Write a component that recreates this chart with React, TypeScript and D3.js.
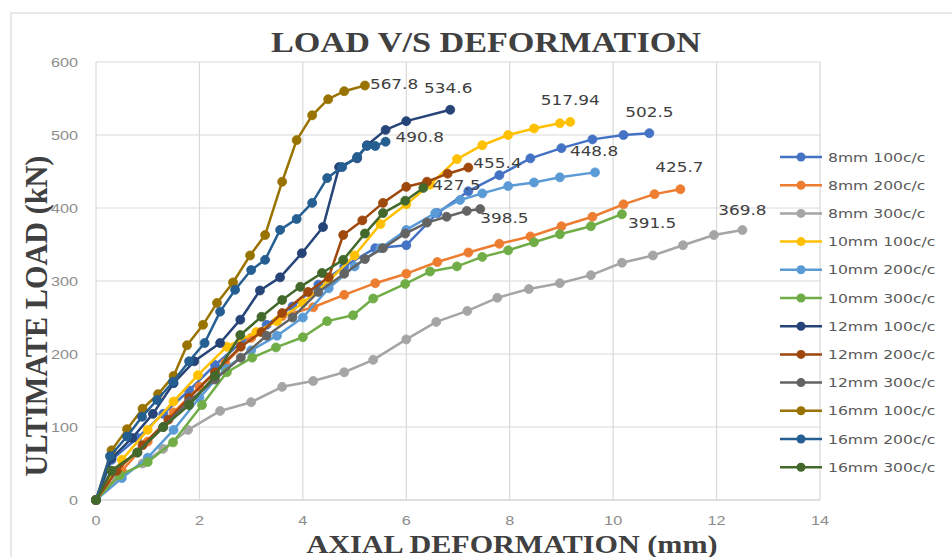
import React from "react";
import * as d3 from "d3";

const seriesNames = [
  "8mm 100c/c", "8mm 200c/c", "8mm 300c/c",
  "10mm 100c/c", "10mm 200c/c", "10mm 300c/c",
  "12mm 100c/c", "12mm 200c/c", "12mm 300c/c",
  "16mm 100c/c", "16mm 200c/c", "16mm 300c/c",
];

const s8_100_x = [0, 0.3, 0.8, 1.3, 1.8, 2.3, 2.8, 3.3, 3.8, 4.3, 4.8, 5.4, 6.0, 6.6, 7.2, 7.8, 8.4, 9.0, 9.6, 10.2, 10.7];
const s8_100_y = [0, 55, 85, 118, 150, 185, 215, 240, 265, 295, 320, 345, 349, 393, 423, 445, 468, 482, 494, 500, 502.5];

const s8_200_x = [0, 0.5, 1.0, 1.5, 2.0, 2.5, 3.0, 3.6, 4.2, 4.8, 5.4, 6.0, 6.6, 7.2, 7.8, 8.4, 9.0, 9.6, 10.2, 10.8, 11.3];
const s8_200_y = [0, 40, 80, 120, 155, 188, 222, 252, 264, 281, 297, 310, 326, 339, 351, 361, 375, 388, 405, 419, 425.7];

const s8_300_x = [0, 0.4, 0.9, 1.3, 1.78, 2.4, 3.0, 3.6, 4.2, 4.8, 5.36, 6.0, 6.58, 7.18, 7.76, 8.37, 8.97, 9.57, 10.17, 10.77, 11.35, 11.95, 12.5];
const s8_300_y = [0, 30, 50, 70, 96, 122, 134, 155, 163, 175, 192, 220, 244, 259, 277, 289, 297, 308, 325, 335, 349, 363, 369.8];

const s10_100_x = [0, 0.5, 1.0, 1.5, 1.97, 2.53, 3.1, 3.5, 4.0, 4.5, 5.0, 5.5, 6.0, 6.46, 6.98, 7.47, 7.97, 8.47, 8.97, 9.17];
const s10_100_y = [0, 55, 96, 135, 171, 210, 230, 245, 270, 300, 335, 378, 405, 432, 467, 486, 500, 509, 516, 517.94];

const s10_200_x = [0, 0.5, 1.0, 1.5, 2.0, 2.5, 3.0, 3.5, 4.0, 4.5, 5.0, 5.5, 6.0, 6.56, 7.04, 7.47, 7.97, 8.47, 8.97, 9.65];
const s10_200_y = [0, 30, 58, 96, 140, 180, 205, 225, 250, 290, 320, 345, 370, 393, 411, 420, 430, 435, 442, 448.8];

const s10_300_x = [0, 0.46, 1.0, 1.49, 2.05, 2.53, 3.02, 3.48, 4.0, 4.47, 4.97, 5.36, 5.98, 6.46, 6.98, 7.47, 7.97, 8.47, 8.97, 9.57, 10.17];
const s10_300_y = [0, 34, 52, 79, 130, 175, 195, 209, 223, 245, 253, 276, 296, 313, 320, 333, 342, 353, 364, 375, 391.5];

const s12_100_x = [0, 0.3, 0.7, 1.1, 1.5, 1.9, 2.4, 2.79, 3.17, 3.56, 3.98, 4.39, 4.7, 5.05, 5.24, 5.6, 6.0, 6.85];
const s12_100_y = [0, 57, 85, 118, 160, 190, 215, 247, 287, 305, 338, 374, 456, 468, 486, 507, 519, 534.6];

const s12_200_x = [0, 0.4, 0.9, 1.4, 1.8, 2.3, 2.8, 3.2, 3.6, 4.1, 4.5, 4.78, 5.15, 5.55, 6.0, 6.4, 6.8, 7.2];
const s12_200_y = [0, 40, 75, 110, 140, 175, 210, 230, 256, 285, 305, 363, 383, 407, 429, 436, 447, 455.4];

const s12_300_x = [0, 0.3, 0.8, 1.3, 1.8, 2.3, 2.8, 3.3, 3.8, 4.3, 4.8, 5.2, 5.55, 5.98, 6.4, 6.78, 7.17, 7.43];
const s12_300_y = [0, 40, 65, 100, 135, 165, 195, 225, 250, 285, 310, 330, 345, 365, 380, 388, 396, 398.5];

const s16_100_x = [0, 0.3, 0.6, 0.9, 1.2, 1.5, 1.76, 2.07, 2.34, 2.65, 2.98, 3.27, 3.6, 3.88, 4.18, 4.49, 4.8, 5.2];
const s16_100_y = [0, 68, 97, 125, 145, 170, 212, 240, 270, 298, 335, 363, 436, 493, 527, 549, 560, 567.8];

const s16_200_x = [0, 0.27, 0.6, 0.89, 1.18, 1.49, 1.8, 2.1, 2.4, 2.69, 3.0, 3.27, 3.56, 3.88, 4.18, 4.47, 4.76, 5.05, 5.24, 5.4, 5.6];
const s16_200_y = [0, 60, 87, 114, 137, 162, 190, 215, 258, 288, 315, 329, 370, 385, 407, 441, 456, 470, 485, 485, 490.8];

const s16_300_x = [0, 0.3, 0.8, 1.3, 1.8, 2.3, 2.79, 3.2, 3.6, 3.95, 4.37, 4.78, 5.2, 5.55, 5.98, 6.33];
const s16_300_y = [0, 40, 65, 100, 130, 170, 226, 251, 274, 292, 311, 329, 365, 393, 410, 427.5];

const endLabels = ["502.5", "425.7", "369.8", "517.94", "448.8", "391.5", "534.6", "455.4", "398.5", "567.8", "490.8", "427.5"];

const xTicks = [0, 2, 4, 6, 8, 10, 12, 14];
const yTicks = [0, 100, 200, 300, 400, 500, 600];

const colors = [
  "#4472C4", "#ED7D31", "#A5A5A5",
  "#FFC000", "#5B9BD5", "#70AD47",
  "#264478", "#9E480E", "#636363",
  "#997300", "#255E91", "#43682B",
];

// label placement: [anchor, dx, dy]
const labelPlace: [string, number, number][] = [
  ["middle", 0, -21],
  ["middle", -1, -22],
  ["middle", 0, -20],
  ["middle", 0, -22],
  ["middle", -1, -21],
  ["start", 6, 9],
  ["middle", -2, -22],
  ["start", 5, -5],
  ["start", 0, 9],
  ["start", 5, -2],
  ["start", 10, -5],
  ["start", 9, -3],
];

const xsAll = [s8_100_x, s8_200_x, s8_300_x, s10_100_x, s10_200_x, s10_300_x, s12_100_x, s12_200_x, s12_300_x, s16_100_x, s16_200_x, s16_300_x];
const ysAll = [s8_100_y, s8_200_y, s8_300_y, s10_100_y, s10_200_y, s10_300_y, s12_100_y, s12_200_y, s12_300_y, s16_100_y, s16_200_y, s16_300_y];

export default function App() {
  const W = 952, H = 557;
  const x = d3.scaleLinear().domain([0, 14]).range([96, 820]);
  const y = d3.scaleLinear().domain([0, 600]).range([500, 62]);
  const line = d3.line<[number, number]>().x((d) => x(d[0])).y((d) => y(d[1]));
  const series = seriesNames.map((name, i) => ({
    name,
    color: colors[i],
    pts: xsAll[i].map((v, j) => [v, ysAll[i][j]] as [number, number]),
    label: endLabels[i],
    place: labelPlace[i],
  }));
  const SX = 1.25;
  return (
    <svg width={W} height={H} style={{ position: "absolute", left: 0, top: 0, background: "#fff" }}>
      <rect x={11} y={13} width={1000} height={600} fill="#fff" stroke="#d9d9d9" strokeWidth={1.2} />
      <text transform={`translate(486,52) scale(1.2,1)`} textAnchor="middle" fontFamily="Liberation Serif" fontWeight="bold" fontSize={28.5} fill="#404040">
        LOAD V/S DEFORMATION
      </text>
      {yTicks.map((t) => (
        <line key={"gy" + t} x1={x(0)} x2={x(14)} y1={y(t)} y2={y(t)} stroke={t === 0 ? "#bfbfbf" : "#d9d9d9"} strokeWidth={1.2} />
      ))}
      {xTicks.map((t) => (
        <line key={"gx" + t} x1={x(t)} x2={x(t)} y1={y(0)} y2={y(600)} stroke="#d9d9d9" strokeWidth={1.2} />
      ))}
      {yTicks.map((t) => (
        <text key={"ty" + t} transform={`translate(78,${y(t) + 4.5}) scale(1.3,1)`} textAnchor="end" fontFamily="Liberation Sans" fontSize={12.5} fill="#8c8c8c">
          {t}
        </text>
      ))}
      {xTicks.map((t) => (
        <text key={"tx" + t} transform={`translate(${x(t)},${y(0) + 25}) scale(1.3,1)`} textAnchor="middle" fontFamily="Liberation Sans" fontSize={12.5} fill="#8c8c8c">
          {t}
        </text>
      ))}
      <text transform={`translate(512,553) scale(1.23,1)`} textAnchor="middle" fontFamily="Liberation Serif" fontWeight="bold" fontSize={24.5} fill="#404040">
        AXIAL DEFORMATION (mm)
      </text>
      <text transform={`translate(47,316) rotate(-90) scale(1.08,1.1)`} textAnchor="middle" fontFamily="Liberation Serif" fontWeight="bold" fontSize={28} fill="#404040">
        ULTIMATE LOAD (kN)
      </text>
      {series.map((s) => (
        <g key={s.name}>
          <path d={line(s.pts) || ""} fill="none" stroke={s.color} strokeWidth={2.5} strokeLinejoin="round" />
          {s.pts.map((p, j) => (
            <circle key={j} cx={x(p[0])} cy={y(p[1])} r={4.5} fill={s.color} stroke={s.color} strokeWidth={0.8} />
          ))}
        </g>
      ))}
      {series.map((s) => {
        const last = s.pts[s.pts.length - 1];
        const [anchor, dx, dy] = s.place;
        return (
          <text key={"lb" + s.name} transform={`translate(${x(last[0]) + dx},${y(last[1]) + dy + 5}) scale(${SX},1)`} textAnchor={anchor} fontFamily="DejaVu Sans" fontSize={13.5} fill="#404040">
            {s.label}
          </text>
        );
      })}
      {series.map((s, i) => {
        const ly = 157 + i * 28.2;
        return (
          <g key={"lg" + s.name}>
            <line x1={780} x2={822} y1={ly} y2={ly} stroke={s.color} strokeWidth={2.5} />
            <circle cx={801} cy={ly} r={4.5} fill={s.color} />
            <text transform={`translate(828,${ly + 4.5}) scale(1.2,1)`} fontFamily="DejaVu Sans" fontSize={13} fill="#595959">
              {s.name}
            </text>
          </g>
        );
      })}
    </svg>
  );
}
